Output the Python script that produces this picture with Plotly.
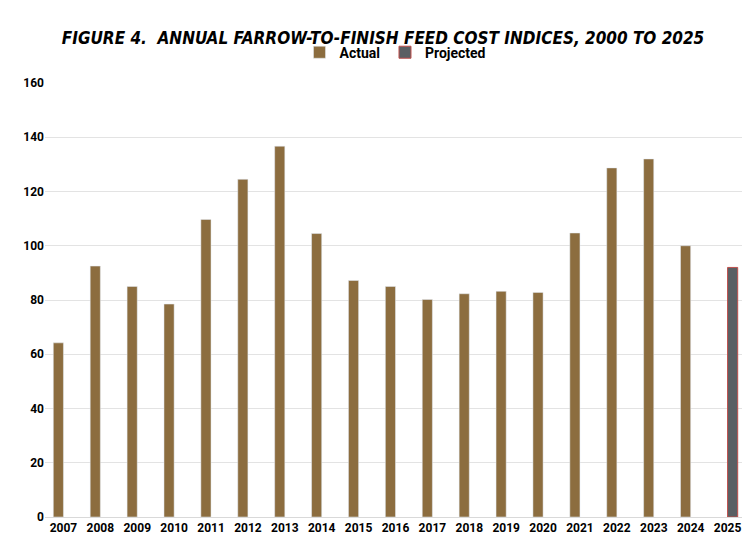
import plotly.graph_objects as go

# ===================== data =====================
YEARS = [str(y) for y in range(2007, 2026)]
ACTUAL = [64.2, 92.5, 85.0, 78.5, 109.7, 124.5, 136.7, 104.5, 87.2, 85.0,
          80.2, 82.3, 83.2, 82.8, 104.7, 128.7, 132.0, 100.0, None]
PROJECTED = [None] * 18 + [92.0]

fig = go.Figure()
fig.add_trace(go.Bar(x=YEARS, y=ACTUAL, name="Actual", marker_color="#8c6d3f"))
fig.add_trace(go.Bar(
    x=YEARS, y=PROJECTED, name="Projected",
    marker=dict(color="#5a5f63", line=dict(color="#c0504d", width=1)),
))

fig.update_layout(
    width=750, height=545,
    margin=dict(l=37, r=12, t=75, b=36),
    paper_bgcolor="white", plot_bgcolor="white",
    barmode="group", bargap=0.45, bargroupgap=0,
    title=dict(
        text="FIGURE 4.  ANNUAL FARROW-TO-FINISH FEED COST INDICES, 2000 TO 2025",
        x=0.5, xanchor="center", y=0.955,
        font=dict(family="DejaVu Sans Condensed, sans-serif",
                  size=17, color="black", style="italic", weight="bold"),
    ),
    legend=dict(orientation="h", x=0.5, xanchor="center", y=1.07, yanchor="middle",
                font=dict(family="Roboto, Arial, sans-serif", size=14, color="black", weight="bold"),
                itemwidth=30),
    font=dict(family="Roboto, Arial, sans-serif"),
)
fig.update_xaxes(tickfont=dict(size=12, color="black", weight="bold"),
                 showline=True, linecolor="#d9d9d9", ticks="")
fig.update_yaxes(range=[0, 160], dtick=20, gridcolor="#e3e3e3", zeroline=False,
                 tickfont=dict(size=12, color="black", weight="bold"))

fig.write_html("out.html")
